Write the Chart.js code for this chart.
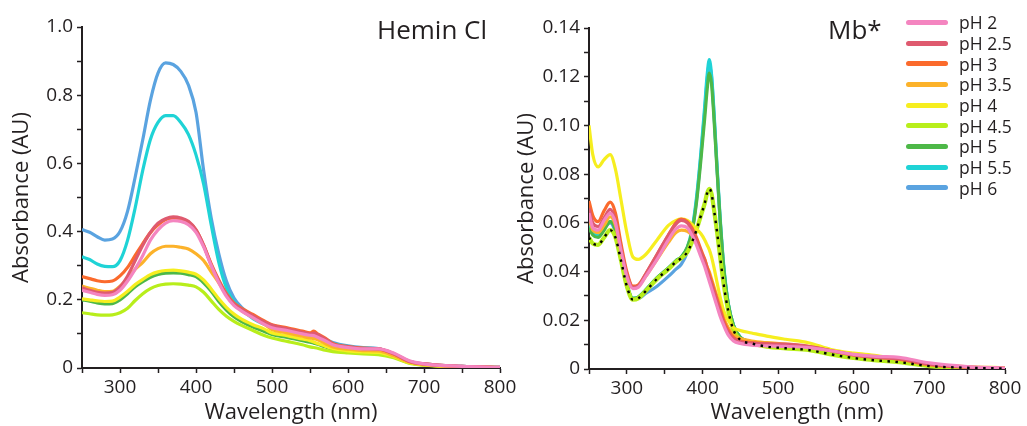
<!DOCTYPE html>
<html>
<head>
<meta charset="utf-8">
<script src="https://cdn.jsdelivr.net/npm/chart.js@4.4.1/dist/chart.umd.min.js"></script>
<style>
  body { margin: 0; background: #fff; width: 1027px; height: 426px; position: relative; overflow: hidden; font-family: "Open Sans", sans-serif; color: #231f20; }
  canvas { position: absolute; top: 0; }
  #left { left: 0; }
  #right { left: 500px; }
  .panel-title { position: absolute; font-size: 26px; line-height: 26px; white-space: nowrap; }
  #legend { position: absolute; left: 906px; top: 12px; }
  .leg-row { height: 20.7px; display: flex; align-items: center; font-size: 17.5px; }
  .leg-line { width: 42px; height: 5px; border-radius: 3px; margin-right: 11px; }
</style>
</head>
<body>
<canvas id="left" width="530" height="426"></canvas>
<canvas id="right" width="527" height="426"></canvas>
<div class="panel-title" style="left:377px; top:16px;">Hemin Cl</div>
<div class="panel-title" style="left:828px; top:16px;">Mb*</div>
<div id="legend"></div>
<script>
const phLabels = ["pH 2", "pH 2.5", "pH 3", "pH 3.5", "pH 4", "pH 4.5", "pH 5", "pH 5.5", "pH 6"];
const phColors = ["#f485c0", "#df5a6f", "#fb6a2c", "#fcb22a", "#f6ee1f", "#b8ee1b", "#4db848", "#1fd3d6", "#5aa3e0"];

// Hemin Cl panel
const heminWl = [250, 260, 270, 280, 290, 300, 310, 320, 330, 340, 350, 360, 370, 380, 390, 400, 410, 420, 430, 440, 450, 460, 475, 490,
                 500, 520, 540, 550, 555, 560, 570, 580, 600, 620, 640, 660, 680, 700, 750, 800];
const heminPH2 = [0.228, 0.222, 0.216, 0.213, 0.215, 0.228, 0.255, 0.29, 0.33, 0.375, 0.405, 0.425, 0.432, 0.43, 0.42, 0.398, 0.355, 0.3, 0.25, 0.21, 0.183, 0.167, 0.147, 0.128,
                  0.118, 0.11, 0.1, 0.096, 0.095, 0.09, 0.08, 0.068, 0.06, 0.056, 0.056, 0.044, 0.022, 0.012, 0.005, 0.002];
const heminPH25 = [0.235, 0.228, 0.222, 0.22, 0.222, 0.238, 0.27, 0.315, 0.36, 0.398, 0.425, 0.438, 0.443, 0.44, 0.43, 0.405, 0.36, 0.302, 0.255, 0.215, 0.188, 0.172, 0.153, 0.135,
                   0.125, 0.115, 0.105, 0.1, 0.102, 0.098, 0.085, 0.07, 0.062, 0.057, 0.056, 0.042, 0.02, 0.012, 0.005, 0.002];
const heminPH3 = [0.268, 0.262, 0.256, 0.253, 0.255, 0.27, 0.295, 0.33, 0.365, 0.397, 0.42, 0.435, 0.44, 0.437, 0.428, 0.405, 0.36, 0.305, 0.258, 0.218, 0.19, 0.175, 0.157, 0.138,
                  0.127, 0.118, 0.108, 0.103, 0.108, 0.1, 0.088, 0.072, 0.063, 0.058, 0.056, 0.042, 0.02, 0.012, 0.005, 0.002];
const heminPH35 = [0.24, 0.234, 0.228, 0.224, 0.225, 0.24, 0.262, 0.29, 0.31, 0.335, 0.35, 0.357, 0.357, 0.354, 0.349, 0.335, 0.315, 0.282, 0.25, 0.215, 0.188, 0.168, 0.148, 0.128,
                   0.113, 0.103, 0.093, 0.088, 0.086, 0.083, 0.072, 0.062, 0.055, 0.051, 0.05, 0.036, 0.018, 0.01, 0.004, 0.001];
const heminPH4 = [0.203, 0.2, 0.197, 0.195, 0.196, 0.208, 0.225, 0.245, 0.26, 0.274, 0.282, 0.286, 0.287, 0.285, 0.281, 0.275, 0.258, 0.232, 0.203, 0.178, 0.158, 0.143, 0.127, 0.114,
                  0.103, 0.095, 0.085, 0.08, 0.076, 0.072, 0.064, 0.057, 0.05, 0.047, 0.046, 0.034, 0.016, 0.009, 0.004, 0.001];
const heminPH45 = [0.162, 0.159, 0.156, 0.155, 0.156, 0.162, 0.175, 0.198, 0.218, 0.233, 0.242, 0.246, 0.247, 0.246, 0.243, 0.238, 0.222, 0.197, 0.172, 0.152, 0.137, 0.125, 0.11, 0.095,
                   0.088, 0.078, 0.068, 0.062, 0.06, 0.058, 0.052, 0.048, 0.044, 0.041, 0.039, 0.03, 0.014, 0.008, 0.003, 0.001];
const heminPH5 = [0.2, 0.196, 0.191, 0.188, 0.189, 0.2, 0.218, 0.238, 0.253, 0.266, 0.274, 0.278, 0.279, 0.278, 0.274, 0.268, 0.25, 0.225, 0.195, 0.17, 0.15, 0.136, 0.12, 0.107,
                  0.098, 0.09, 0.08, 0.076, 0.073, 0.07, 0.062, 0.055, 0.049, 0.045, 0.044, 0.033, 0.016, 0.009, 0.004, 0.001];
const heminPH55 = [0.326, 0.318, 0.305, 0.298, 0.297, 0.315, 0.375, 0.47, 0.58, 0.67, 0.72, 0.74, 0.74, 0.72, 0.685, 0.625, 0.54, 0.42, 0.31, 0.235, 0.195, 0.172, 0.145, 0.128,
                   0.12, 0.11, 0.1, 0.095, 0.092, 0.09, 0.082, 0.072, 0.063, 0.058, 0.055, 0.039, 0.019, 0.011, 0.005, 0.002];
const heminPH6 = [0.406, 0.398, 0.385, 0.375, 0.378, 0.4, 0.46, 0.56, 0.67, 0.785, 0.865, 0.895, 0.89, 0.87, 0.83, 0.75, 0.58, 0.44, 0.335, 0.255, 0.205, 0.178, 0.15, 0.132,
                  0.125, 0.115, 0.105, 0.1, 0.097, 0.094, 0.085, 0.075, 0.065, 0.06, 0.057, 0.04, 0.02, 0.012, 0.005, 0.002];

// Mb* panel
const mbWl = [250, 255, 262, 270, 278, 285, 292, 300, 308, 315, 325, 340, 355, 365, 372, 380, 386, 392, 398, 403, 406, 409, 412, 415, 419, 423, 428, 434, 441,
              450, 465, 485, 510, 540, 570, 600, 630, 660, 700, 750, 800];
const mbPH2 = [0.064, 0.058, 0.057, 0.061, 0.064, 0.06, 0.049, 0.038, 0.033, 0.0335, 0.038, 0.045, 0.053, 0.0575, 0.0588, 0.058, 0.055, 0.051, 0.046, 0.042, 0.039, 0.036, 0.033, 0.03, 0.026, 0.022, 0.018, 0.014, 0.0115,
               0.0105, 0.0098, 0.0095, 0.0093, 0.0088, 0.0075, 0.006, 0.0052, 0.0048, 0.0025, 0.001, 0.0004];
const mbPH25 = [0.066, 0.06, 0.0585, 0.062, 0.0655, 0.061, 0.05, 0.039, 0.0335, 0.034, 0.039, 0.047, 0.055, 0.0595, 0.061, 0.06, 0.057, 0.053, 0.048, 0.044, 0.041, 0.038, 0.035, 0.032, 0.028, 0.024, 0.019, 0.015, 0.0125,
                0.0112, 0.0106, 0.0103, 0.0102, 0.0093, 0.0075, 0.0058, 0.0048, 0.0042, 0.002, 0.0008, 0.0003];
const mbPH3 = [0.069, 0.063, 0.0605, 0.065, 0.0685, 0.064, 0.052, 0.04, 0.034, 0.0345, 0.039, 0.047, 0.055, 0.06, 0.0615, 0.0605, 0.058, 0.054, 0.049, 0.045, 0.042, 0.039, 0.036, 0.033, 0.029, 0.025, 0.02, 0.016, 0.013,
               0.0115, 0.0108, 0.0104, 0.01, 0.0092, 0.0075, 0.0058, 0.0048, 0.004, 0.0018, 0.0008, 0.0003];
const mbPH35 = [0.062, 0.057, 0.056, 0.059, 0.0625, 0.059, 0.049, 0.039, 0.0335, 0.034, 0.038, 0.045, 0.052, 0.056, 0.057, 0.0565, 0.055, 0.052, 0.048, 0.045, 0.042, 0.04, 0.037, 0.034, 0.03, 0.026, 0.021, 0.017, 0.014,
                0.0125, 0.0115, 0.0108, 0.0102, 0.0092, 0.0075, 0.0058, 0.0048, 0.004, 0.0018, 0.0008, 0.0003];
const mbPH4 = [0.1, 0.088, 0.083, 0.086, 0.088, 0.082, 0.07, 0.056, 0.046, 0.045, 0.047, 0.053, 0.059, 0.061, 0.0615, 0.061, 0.0595, 0.0575, 0.0555, 0.053, 0.051, 0.049, 0.046, 0.042, 0.036, 0.03, 0.024, 0.02, 0.017,
               0.0158, 0.0148, 0.0135, 0.0122, 0.0108, 0.008, 0.0065, 0.0055, 0.004, 0.002, 0.001, 0.0005];
const mbPH45 = [0.054, 0.0515, 0.051, 0.054, 0.057, 0.054, 0.045, 0.034, 0.0285, 0.029, 0.032, 0.037, 0.041, 0.044, 0.0455, 0.048, 0.052, 0.057, 0.063, 0.068, 0.072, 0.074, 0.072, 0.066, 0.057, 0.047, 0.035, 0.024, 0.016,
                0.012, 0.0105, 0.0092, 0.0085, 0.0078, 0.006, 0.0045, 0.0035, 0.0028, 0.0012, 0.0005, 0.0002];
const mbPH5 = [0.058, 0.055, 0.054, 0.057, 0.0605, 0.057, 0.047, 0.035, 0.029, 0.0295, 0.0325, 0.0375, 0.0415, 0.0445, 0.046, 0.05, 0.056, 0.068, 0.086, 0.103, 0.114, 0.1215, 0.117, 0.104, 0.083, 0.063, 0.042, 0.027, 0.018,
               0.013, 0.011, 0.0095, 0.0088, 0.008, 0.0062, 0.0047, 0.0037, 0.003, 0.0013, 0.0005, 0.0002];
const mbPH55 = [0.059, 0.056, 0.055, 0.058, 0.0605, 0.057, 0.047, 0.035, 0.029, 0.0295, 0.0325, 0.0375, 0.0415, 0.0445, 0.046, 0.05, 0.057, 0.07, 0.089, 0.108, 0.12, 0.127, 0.121, 0.107, 0.085, 0.064, 0.043, 0.027, 0.018,
                0.013, 0.011, 0.0095, 0.0088, 0.008, 0.0062, 0.0047, 0.0037, 0.003, 0.0013, 0.0005, 0.0002];
const mbPH6 = [0.06, 0.057, 0.0565, 0.058, 0.06, 0.056, 0.046, 0.034, 0.029, 0.029, 0.031, 0.034, 0.038, 0.041, 0.043, 0.048, 0.056, 0.069, 0.088, 0.106, 0.118, 0.125, 0.12, 0.106, 0.084, 0.063, 0.042, 0.027, 0.018,
               0.013, 0.011, 0.0095, 0.0088, 0.008, 0.0062, 0.0047, 0.0037, 0.003, 0.0013, 0.0005, 0.0002];

const heminSeries = [heminPH2, heminPH25, heminPH3, heminPH35, heminPH4, heminPH45, heminPH5, heminPH55, heminPH6];
const mbSeries = [mbPH2, mbPH25, mbPH3, mbPH35, mbPH4, mbPH45, mbPH5, mbPH55, mbPH6];

const ink = "#231f20";
const font = "'Open Sans', sans-serif";

function toPoints(wl, vals) {
    return wl.map((x, i) => ({ x: x, y: vals[i] }));
}

function buildDatasets(wl, series, widths) {
    return series.map((vals, i) => ({
        label: phLabels[i],
        data: toPoints(wl, vals),
        borderColor: phColors[i],
        borderWidth: (widths && widths[i]) || 3.2,
        pointRadius: 0,
        cubicInterpolationMode: "monotone",
        fill: false
    }));
}

function axisOptions(opts) {
    return {
        type: "linear",
        min: opts.min,
        max: opts.max,
        border: { display: true, color: ink, width: 2 },
        grid: { display: true, drawOnChartArea: false, drawTicks: true, tickLength: 5, tickColor: ink, tickWidth: 1.5 },
        ticks: {
            stepSize: opts.step,
            autoSkip: false,
            maxRotation: 0,
            color: ink,
            padding: opts.tickPad,
            font: { family: font, size: 19 },
            callback: opts.label
        },
        title: {
            display: true,
            text: opts.title,
            color: ink,
            font: { family: font, size: 22 },
            padding: opts.titlePad
        },
        afterFit: opts.fit
    };
}

function makeChart(id, wl, series, yMax, yStep, yLabel, yBoxWidth, yTitlePad, pad, extra, widths) {
    const datasets = buildDatasets(wl, series, widths).concat(extra || []);
    return new Chart(document.getElementById(id), {
        type: "line",
        data: { datasets: datasets },
        options: {
            responsive: false,
            animation: false,
            devicePixelRatio: 1,
            layout: { padding: pad },
            plugins: { legend: { display: false }, tooltip: { enabled: false } },
            scales: {
                x: axisOptions({
                    min: 250, max: 800, step: 50, tickPad: 3,
                    title: "Wavelength (nm)",
                    titlePad: { top: 0, bottom: 0 },
                    label: v => (v % 100 === 0 ? String(v) : ""),
                    fit: s => { s.height = 426 - 368 + (id === "right" ? -1 : 0); }
                }),
                y: axisOptions({
                    min: 0, max: yMax, step: yStep, tickPad: 4,
                    title: "Absorbance (AU)",
                    titlePad: yTitlePad,
                    label: yLabel,
                    fit: s => { s.width = yBoxWidth; }
                })
            }
        }
    });
}

makeChart("left", heminWl, heminSeries, 1.0, 0.1,
    v => {
        const k = Math.round(v * 10);
        if (k % 2 !== 0) return "";
        return k === 0 ? "0" : (k / 10).toFixed(1);
    },
    82, { top: 9, bottom: 0 }, { top: 27, right: 30, left: 0, bottom: 0 });

// black dotted trace drawn over the pH 4.5 curve
const mbOverlay = {
    label: "overlay",
    data: toPoints(mbWl, mbPH45),
    borderColor: "#000",
    borderWidth: 2.4,
    borderDash: [2.5, 5.5],
    pointRadius: 0,
    cubicInterpolationMode: "monotone",
    fill: false,
    order: -1
};

makeChart("right", mbWl, mbSeries, 0.14, 0.01,
    v => {
        const k = Math.round(v * 100);
        if (k % 2 !== 0) return "";
        return k === 0 ? "0" : (k / 100).toFixed(2);
    },
    89, { top: 14, bottom: 0 }, { top: 28, right: 22, left: 0, bottom: 0 }, [mbOverlay],
    [0, 0, 0, 0, 0, 4.2, 0, 0, 0]);

// legend
const legend = document.getElementById("legend");
phLabels.forEach((lab, i) => {
    const row = document.createElement("div");
    row.className = "leg-row";
    row.innerHTML = `<div class="leg-line" style="background:${phColors[i]}"></div><span>${lab}</span>`;
    legend.appendChild(row);
});
</script>
</body>
</html>
